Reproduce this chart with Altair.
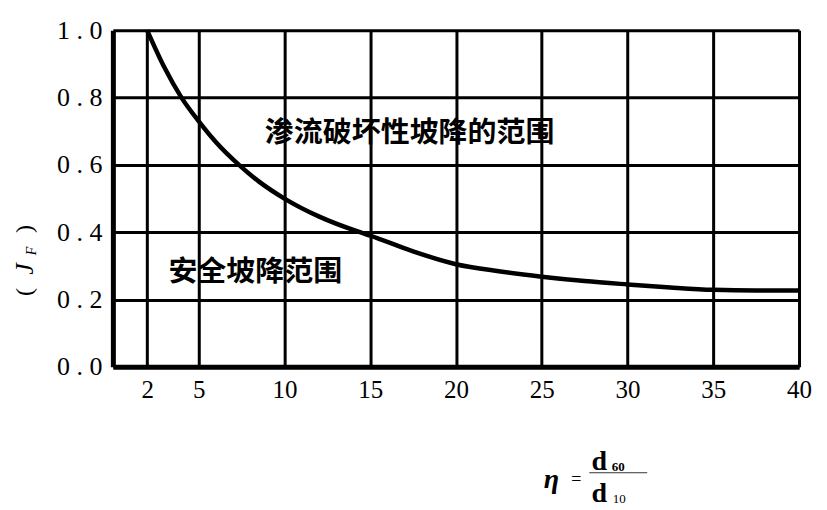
import altair as alt
import pandas as pd

# curve
eta = [2, 3, 4, 5, 6, 7.35, 8.5, 10, 12, 14.4, 15, 17.5, 20, 22.5, 25, 27.5, 30, 32.5, 35, 37.5, 40]
jf = [1.0, 0.89, 0.8, 0.73, 0.668, 0.6, 0.551, 0.5, 0.447, 0.4, 0.39, 0.343, 0.305, 0.284, 0.268,
      0.255, 0.245, 0.236, 0.229, 0.227, 0.227]

x_ticks = [2, 5, 10, 15, 20, 25, 30, 35, 40]
y_ticks = [0.0, 0.2, 0.4, 0.6, 0.8, 1.0]

region_labels = ["渗流破坏性坡降的范围", "安全坡降范围"]
region_x = [17.3, 8.3]
region_y = [0.694, 0.282]

SERIF = "Liberation Serif"
CJK = "Noto Sans CJK SC"

curve_df = pd.DataFrame({"eta": eta, "jf": jf})
label_df = pd.DataFrame({"label": region_labels, "x": region_x, "y": region_y})
one = pd.DataFrame({"k": [0]})

xscale = alt.Scale(domain=[0, 40], nice=False, zero=False)
yscale = alt.Scale(domain=[0, 1], nice=False)

curve = alt.Chart(curve_df).mark_line(
    color="black", strokeWidth=4.5, interpolate="monotone"
).encode(
    x=alt.X("eta:Q", scale=xscale, axis=alt.Axis(
        values=x_ticks, title=None, ticks=False, labelPadding=11,
        labelFont=SERIF, labelFontSize=25, labelColor="black",
        grid=True, gridColor="black", gridWidth=3,
        domainColor="black", domainWidth=5, labelFlush=False)),
    y=alt.Y("jf:Q", scale=yscale, axis=alt.Axis(
        values=y_ticks, title=None, ticks=False, labelPadding=11,
        labelExpr="replace(format(datum.value, '.1f'), '.', ' . ')",
        labelFont=SERIF, labelFontSize=26, labelColor="black",
        grid=True, gridColor="black", gridWidth=3,
        domainColor="black", domainWidth=5, labelFlush=False)),
)

labels = alt.Chart(label_df).mark_text(
    font=CJK, fontSize=29, fontWeight="bold", color="black", baseline="middle", align="center"
).encode(
    x=alt.X("x:Q", scale=xscale),
    y=alt.Y("y:Q", scale=yscale),
    text="label:N",
)


def txt(s, x, y, size, **kw):
    return alt.Chart(one).mark_text(
        text=s, fontSize=size, color="black", baseline="middle", align="center", **kw
    ).encode(x=alt.value(x), y=alt.value(y))


ytitle = [
    txt("(", -88, 262, 24, font=SERIF, angle=270),
    txt("J", -88, 239, 26, font=SERIF, fontStyle="italic", angle=270),
    txt("F", -81, 221, 14, font=SERIF, fontStyle="italic", angle=270),
    txt(")", -88, 199, 24, font=SERIF, angle=270),
]

xtitle = [
    txt("η", 439, 450, 28, font=SERIF, fontStyle="italic", fontWeight="bold"),
    txt("=", 464, 450, 18, font=SERIF),
    txt("d", 487, 432, 28, font=SERIF, fontWeight="bold"),
    txt("60", 506, 437, 13, font=SERIF, fontWeight="bold"),
    txt("d", 487, 464, 28, font=SERIF, fontWeight="bold"),
    txt("10", 507, 469, 13, font=SERIF),
]

frac_line = alt.Chart(one).mark_rule(color="#333", strokeWidth=1).encode(
    x=alt.value(477), x2=alt.value(535), y=alt.value(443)
)

chart = alt.layer(curve, labels, *ytitle, *xtitle, frac_line).properties(
    width=687, height=337,
    autosize=alt.AutoSizeParams(type="none"),
    padding={"left": 105, "top": 22, "right": 20, "bottom": 142},
).configure_view(
    stroke="black", strokeWidth=4
).configure(background="white")

chart.save("out.html", embed_options={"renderer": "svg", "actions": False})
